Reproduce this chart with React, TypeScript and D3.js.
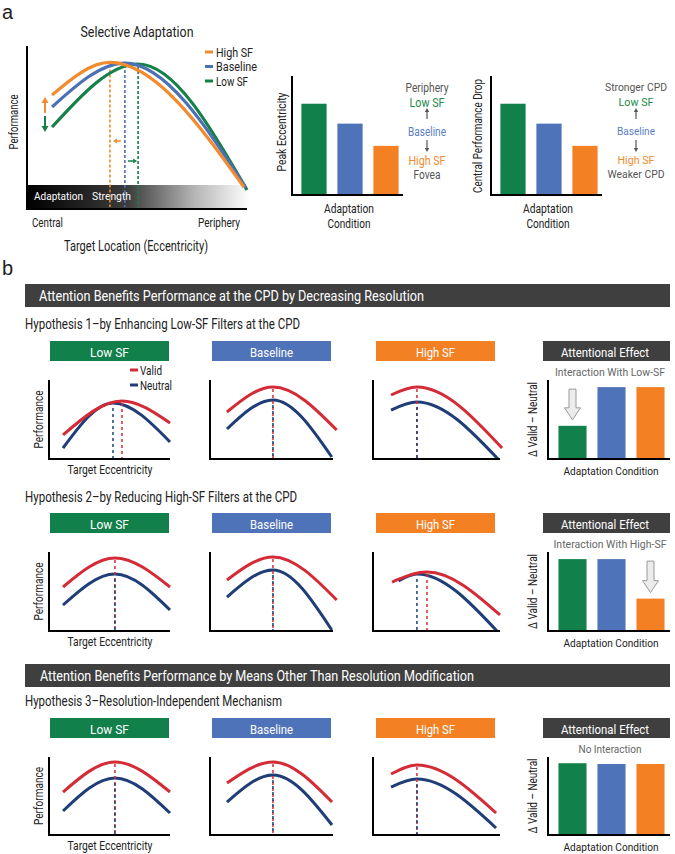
import React from "react";
import * as d3 from "d3";

const FONT = "'Liberation Sans Narrow','Arial Narrow','Roboto','Liberation Sans',sans-serif";

// ---------- shared categories ----------
const conditions = ["Low SF", "Baseline", "High SF"];
const conditionColors = ["#11804a", "#4f73b8", "#f38124"];
const validColor = "#d42b36";
const neutralColor = "#1f3e78";

// ---------- panel a: selective adaptation curves (eccentricity 0-100, performance 0-100) ----------
const adaptLegend = ["High SF", "Baseline", "Low SF"];
const adaptColors = ["#f28a2e", "#4a70b6", "#158048"];
const adaptHighSF = [[11.4, 70.4], [37.7, 90.5], [98.6, 13.6]];
const adaptBaseline = [[11.4, 63.0], [44.5, 90.1], [99.5, 13.0]];
const adaptLowSF = [[11.4, 50.6], [50.5, 89.5], [100, 11.7]];

// ---------- panel a: bar charts ----------
const peakEccentricity = [78, 61, 42];
const centralPerformanceDrop = [78, 61, 42];

// ---------- panel b: curves per hypothesis, per condition [start, peak, end] ----------
const h1Valid = [
  [[11.6, 30.4], [60.3, 73.4], [100, 45.6]],
  [[13.8, 59.5], [51.2, 91.1], [103, 36.7]],
  [[14.2, 81.0], [34.6, 91.1], [101.6, 13.9]],
];
const h1Neutral = [
  [[11.6, 13.9], [52.9, 70.9], [100, 21.5]],
  [[13.8, 38.0], [51.2, 74.7], [99, 2.5]],
  [[14.2, 62.0], [34.6, 72.2], [98.4, 0]],
];
const h2Valid = [
  [[11.6, 55.7], [54.5, 92.4], [100, 55.7]],
  [[13.8, 64.6], [51.2, 93.7], [103, 39.2]],
  [[15.0, 62.0], [42.5, 74.7], [100, 20.3]],
];
const h2Neutral = [
  [[11.6, 32.9], [54.5, 72.2], [100, 26.6]],
  [[13.8, 43.0], [51.2, 77.2], [99, 1.3]],
  [[20.0, 63.5], [34.6, 72.2], [97.6, 0]],
];
const h3Valid = [
  [[11.6, 55.1], [54.5, 93.6], [100, 55.1]],
  [[13.8, 66.7], [51.2, 93.6], [99.2, 42.3]],
  [[14.2, 78.2], [34.6, 89.7], [96.9, 28.2]],
];
const h3Neutral = [
  [[11.6, 30.8], [54.5, 73.1], [100, 28.2]],
  [[13.8, 42.3], [51.2, 76.9], [99.2, 12.8]],
  [[14.2, 61.5], [34.6, 71.8], [96.9, 9.0]],
];

// attentional effect (valid - neutral)
const attnH1 = [42, 91, 91];
const attnH2 = [91, 91, 41];
const attnH3 = [92, 91, 91];

const headerTexts = [
  "Attention Benefits Performance at the CPD by Decreasing Resolution",
  "Attention Benefits Performance by Means Other Than Resolution Modification",
];
const hypothesisTexts = [
  "Hypothesis 1\u2013by Enhancing Low-SF Filters at the CPD",
  "Hypothesis 2\u2013by Reducing High-SF Filters at the CPD",
  "Hypothesis 3\u2013Resolution-Independent Mechanism",
];
const interactionTexts = ["Interaction With Low-SF", "Interaction With High-SF", "No Interaction"];

type P = number[];

function T(props: any) {
  const { x, y, children, size = 13, fill = "#222", anchor = "middle", w, rotate } = props;
  return (
    <text
      x={x}
      y={y}
      fontSize={size}
      fontWeight={400}
      fill={fill}
      textAnchor={anchor}
      dominantBaseline="central"
      textLength={w}
      lengthAdjust={w ? "spacingAndGlyphs" : undefined}
      transform={rotate ? `rotate(-90 ${x} ${y})` : undefined}
      fontFamily={FONT}
    >
      {children}
    </text>
  );
}

function Arrow({ x1, y1, x2, y2, color, sw = 1.5, hl = 5, hw = 3 }: any) {
  const ang = Math.atan2(y2 - y1, x2 - x1);
  const bx = x2 - hl * Math.cos(ang);
  const by = y2 - hl * Math.sin(ang);
  const px = -Math.sin(ang) * hw;
  const py = Math.cos(ang) * hw;
  return (
    <g>
      <line x1={x1} y1={y1} x2={bx} y2={by} stroke={color} strokeWidth={sw} />
      <polygon points={`${x2},${y2} ${bx + px},${by + py} ${bx - px},${by - py}`} fill={color} />
    </g>
  );
}

function BlockArrow({ cx, y0, y1 }: any) {
  const s = 3.5, hw = 8, hl = 12;
  const pts = [
    [cx - s, y0], [cx + s, y0], [cx + s, y1 - hl], [cx + hw, y1 - hl], [cx, y1], [cx - hw, y1 - hl], [cx - s, y1 - hl],
  ];
  return <polygon points={pts.map((p) => p.join(",")).join(" ")} fill="#ececec" stroke="#999" strokeWidth={1} />;
}

function PanelA() {
  const x = d3.scaleLinear().domain([0, 100]).range([27, 247]);
  const y = d3.scaleLinear().domain([0, 100]).range([209, 47]);
  const line = d3.line<P>().x((d) => x(d[0])).y((d) => y(d[1])).curve(d3.curveMonotoneX);
  const curves = [adaptHighSF, adaptBaseline, adaptLowSF];
  const order = [2, 1, 0];
  const oX = x(adaptHighSF[1][0]);
  const bX = x(adaptBaseline[1][0]);
  const gX = x(adaptLowSF[1][0]);
  return (
    <g>
      <defs>
        <linearGradient id="adaptGrad" x1="0" x2="1" y1="0" y2="0">
          <stop offset="0" stopColor="#000" />
          <stop offset="0.45" stopColor="#3c3c3c" />
          <stop offset="0.75" stopColor="#b5b5b5" />
          <stop offset="1" stopColor="#fff" />
        </linearGradient>
      </defs>
      <T x={137} y={32} size={15} w={113}>Selective Adaptation</T>
      <rect x={27} y={185} width={223} height={24} fill="url(#adaptGrad)" />
      <T x={34} y={196} anchor="start" size={11.5} fill="#fff" w={49}>Adaptation</T>
      <T x={92} y={196} anchor="start" size={11.5} fill="#fff" w={39}>Strength</T>
      {order.map((i) => (
        <line key={"dl" + i} x1={x(curves[i][1][0])} x2={x(curves[i][1][0])} y1={y(curves[i][1][1]) + 2} y2={207}
          stroke={adaptColors[i]} strokeWidth={1.6} strokeDasharray="3,2" />
      ))}
      {order.map((i) => (
        <path key={"c" + i} d={line(curves[i] as P[]) || ""} fill="none" stroke={adaptColors[i]} strokeWidth={3.2} />
      ))}
      <line x1={27} y1={46} x2={27} y2={210} stroke="#000" strokeWidth={2} />
      <line x1={26} y1={209} x2={247} y2={209} stroke="#000" strokeWidth={2} />
      <Arrow x1={45} y1={113} x2={45} y2={97} color={adaptColors[0]} sw={2} hl={6} hw={3.5} />
      <Arrow x1={45} y1={116} x2={45} y2={132} color={adaptColors[2]} sw={2} hl={6} hw={3.5} />
      <Arrow x1={bX - 4} y1={141} x2={oX + 3} y2={141} color={adaptColors[0]} sw={1.5} hl={4} hw={2.5} />
      <Arrow x1={bX + 3} y1={161} x2={gX - 1} y2={161} color={adaptColors[2]} sw={1.5} hl={4} hw={2.5} />
      {adaptLegend.map((name, i) => (
        <g key={name}>
          <line x1={205} x2={213} y1={52 + i * 14.5} y2={52 + i * 14.5} stroke={adaptColors[i]} strokeWidth={3} />
          <T x={216} y={52 + i * 14.5} anchor="start" size={12.5} w={[37, 41, 32][i]}>{name}</T>
        </g>
      ))}
      <T x={13} y={122} size={13} rotate w={55}>Performance</T>
      <T x={32} y={222} anchor="start" size={13} w={31}>Central</T>
      <T x={240} y={222} anchor="end" size={13} w={42}>Periphery</T>
      <T x={136} y={246} size={14} w={144}>Target Location (Eccentricity)</T>
    </g>
  );
}

function BarPanel({ ax, values, yLabel, yLabelW, yLabelX, yLabelY, topText, bottomText, topW, bottomW, textX, tSize }: any) {
  const xb = d3.scaleBand().domain(conditions).range([ax + 4, ax + 112]).paddingInner(0.3).paddingOuter(0.15);
  const y = d3.scaleLinear().domain([0, 100]).range([195, 78]);
  return (
    <g>
      {values.map((v: number, i: number) => (
        <rect key={i} x={xb(conditions[i])} y={y(v)} width={xb.bandwidth()} height={y(0) - y(v)} fill={conditionColors[i]} />
      ))}
      <line x1={ax} y1={76} x2={ax} y2={196} stroke="#000" strokeWidth={2} />
      <line x1={ax - 1} y1={195} x2={ax + 111} y2={195} stroke="#000" strokeWidth={2} />
      <T x={yLabelX} y={yLabelY} rotate size={12.5} w={yLabelW}>{yLabel}</T>
      <T x={ax + 57} y={208} size={13.5} w={50}>Adaptation</T>
      <T x={ax + 57} y={223} size={13.5} w={43}>Condition</T>
      <T x={textX} y={87} size={tSize} fill="#555" w={topW}>{topText}</T>
      <T x={textX} y={102} size={tSize} fill="#1a8a4c" w={35}>Low SF</T>
      <Arrow x1={textX} y1={119} x2={textX} y2={108} color="#555" sw={1.2} hl={4} hw={2.2} />
      <T x={textX} y={131} size={tSize} fill="#5b80c4" w={38}>Baseline</T>
      <Arrow x1={textX} y1={140} x2={textX} y2={152} color="#555" sw={1.2} hl={4} hw={2.2} />
      <T x={textX} y={160} size={tSize} fill="#f28a2e" w={37}>High SF</T>
      <T x={textX} y={174} size={tSize} fill="#555" w={bottomW}>{bottomText}</T>
    </g>
  );
}

const colX0 = [49, 210, 373];
const colW = [121, 123, 127];
const boxX = [[50, 169], [212, 331], [376, 495]];

function SmallPlot({ col, top, bottom, valid, neutral }: any) {
  const x = d3.scaleLinear().domain([0, 100]).range([colX0[col], colX0[col] + colW[col]]);
  const y = d3.scaleLinear().domain([0, 100]).range([bottom, top]);
  const line = d3.line<P>().x((d) => x(d[0])).y((d) => y(d[1])).curve(d3.curveMonotoneX);
  const vp = valid[1];
  const np = neutral[1];
  return (
    <g>
      <path d={line(neutral) || ""} fill="none" stroke={neutralColor} strokeWidth={3} />
      <path d={line(valid) || ""} fill="none" stroke={validColor} strokeWidth={3} />
      <line x1={x(vp[0])} x2={x(vp[0])} y1={y(vp[1]) + 2} y2={bottom} stroke={validColor} strokeWidth={1.5} strokeDasharray="3,3" />
      <line x1={x(np[0])} x2={x(np[0])} y1={y(np[1]) + 2} y2={bottom} stroke={neutralColor} strokeWidth={1.5} strokeDasharray="3,3" strokeDashoffset={3} />
      <line x1={colX0[col]} y1={top} x2={colX0[col]} y2={bottom + 1} stroke="#000" strokeWidth={2} />
      <line x1={colX0[col] - 1} y1={bottom} x2={colX0[col] + colW[col]} y2={bottom} stroke="#000" strokeWidth={2} />
    </g>
  );
}

function AttnPlot({ top, bottom, values, subtitle, subW, arrowIdx }: any) {
  const xb = d3.scaleBand().domain(conditions).range([553, 670]).paddingInner(0.28).paddingOuter(0.14);
  const y = d3.scaleLinear().domain([0, 100]).range([bottom, top]);
  const maxV = d3.max(values as number[]) as number;
  return (
    <g>
      <T x={610} y={top - 8} size={11} fill="#666" w={subW}>{subtitle}</T>
      {values.map((v: number, i: number) => (
        <rect key={i} x={xb(conditions[i])} y={y(v)} width={xb.bandwidth()} height={y(0) - y(v)} fill={conditionColors[i]} />
      ))}
      {arrowIdx !== undefined && (
        <BlockArrow cx={(xb(conditions[arrowIdx]) as number) + xb.bandwidth() / 2} y0={y(maxV) + 2} y1={y(values[arrowIdx]) - 6} />
      )}
      <line x1={548} y1={top} x2={548} y2={bottom + 1} stroke="#000" strokeWidth={2} />
      <line x1={547} y1={bottom} x2={670} y2={bottom} stroke="#000" strokeWidth={2} />
      <T x={533} y={(top + bottom) / 2} rotate size={12} w={75}>{"\u0394 Valid \u2013 Neutral"}</T>
      <T x={611} y={bottom + 12} size={11} w={95}>Adaptation Condition</T>
    </g>
  );
}

function Row({ boxY, hypY, hypText, hypW, top, bottom, valids, neutrals, attn, subtitle, subW, arrowIdx, legend }: any) {
  return (
    <g>
      <T x={25} y={hypY} anchor="start" size={14} w={hypW}>{hypText}</T>
      {conditions.map((c, i) => (
        <g key={c}>
          <rect x={boxX[i][0]} y={boxY} width={boxX[i][1] - boxX[i][0]} height={20} fill={conditionColors[i]} />
          <T x={(boxX[i][0] + boxX[i][1]) / 2} y={boxY + 10.5} size={13.5} fill="#fff" w={[39, 43, 39][i]}>{c}</T>
        </g>
      ))}
      <rect x={543} y={boxY} width={127} height={20} fill="#3f3f3f" />
      <T x={605} y={boxY + 10.5} size={13.5} fill="#fff" w={88}>Attentional Effect</T>
      {conditions.map((c, i) => (
        <SmallPlot key={"sp" + c} col={i} top={top} bottom={bottom} valid={valids[i]} neutral={neutrals[i]} />
      ))}
      <T x={38} y={(top + bottom) / 2} rotate size={12.5} w={58}>Performance</T>
      <T x={110} y={bottom + 10} size={12.5} w={85}>Target Eccentricity</T>
      {legend && (
        <g>
          <line x1={130} x2={138} y1={370} y2={370} stroke={validColor} strokeWidth={3} />
          <T x={140} y={370} anchor="start" size={13} w={22}>Valid</T>
          <line x1={130} x2={138} y1={385} y2={385} stroke={neutralColor} strokeWidth={3} />
          <T x={140} y={385} anchor="start" size={13} w={32}>Neutral</T>
        </g>
      )}
      <AttnPlot top={top} bottom={bottom} values={attn} subtitle={subtitle} subW={subW} arrowIdx={arrowIdx} />
    </g>
  );
}

export default function App() {
  return (
    <div style={{ position: "absolute", left: 0, top: 0, background: "#fff" }}>
      <svg width={675} height={854} style={{ display: "block" }}>
        <rect width={675} height={854} fill="#fff" />
        <text x={2} y={19} fontSize={20} fontFamily="'Liberation Sans',Arial,sans-serif" fill="#222">a</text>
        <text x={2} y={275} fontSize={20} fontFamily="'Liberation Sans',Arial,sans-serif" fill="#222">b</text>
        <PanelA />
        <BarPanel ax={292} values={peakEccentricity} yLabel="Peak Eccentricity" yLabelW={79} yLabelX={281} yLabelY={132}
          topText="Periphery" bottomText="Fovea" topW={43} bottomW={27} textX={427} tSize={12.5} />
        <BarPanel ax={491} values={centralPerformanceDrop} yLabel="Central Performance Drop" yLabelW={114} yLabelX={477} yLabelY={136}
          topText="Stronger CPD" bottomText="Weaker CPD" topW={62} bottomW={57} textX={636} tSize={11.5} />

        <rect x={25} y={284} width={645} height={23} fill="#3f3f3f" />
        <T x={39} y={296} anchor="start" size={15} fill="#fff" w={385}>{headerTexts[0]}</T>

        <Row boxY={341} hypY={324} hypText={hypothesisTexts[0]} hypW={275} top={380} bottom={459}
          valids={h1Valid} neutrals={h1Neutral} attn={attnH1} subtitle={interactionTexts[0]} subW={110} arrowIdx={0} legend />
        <Row boxY={513} hypY={497} hypText={hypothesisTexts[1]} hypW={272} top={552} bottom={631}
          valids={h2Valid} neutrals={h2Neutral} attn={attnH2} subtitle={interactionTexts[1]} subW={113} arrowIdx={2} />

        <rect x={25} y={664} width={645} height={23} fill="#3f3f3f" />
        <T x={40} y={676} anchor="start" size={15} fill="#fff" w={434}>{headerTexts[1]}</T>

        <Row boxY={718} hypY={701} hypText={hypothesisTexts[2]} hypW={257} top={757} bottom={835}
          valids={h3Valid} neutrals={h3Neutral} attn={attnH3} subtitle={interactionTexts[2]} subW={63} />
      </svg>
    </div>
  );
}
